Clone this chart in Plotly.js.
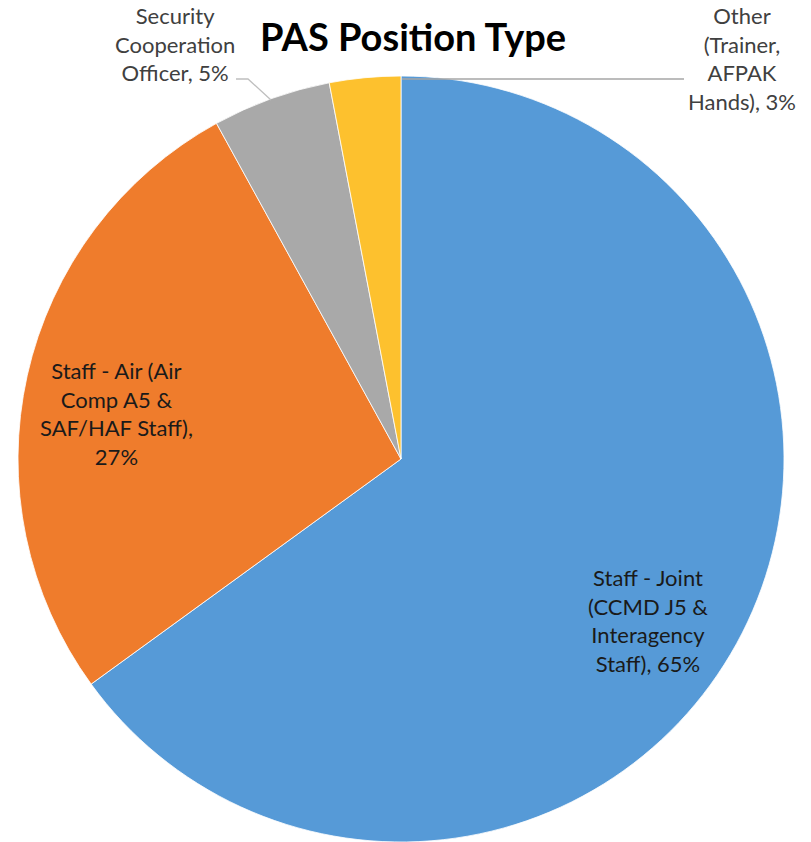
<!DOCTYPE html>
<html>
<head>
<meta charset="utf-8">
<script src="https://cdn.plot.ly/plotly-3.0.1.min.js"></script>
<style>html,body{margin:0;padding:0;background:#fff;}</style>
</head>
<body>
<div id="chart" style="width:811px;height:842px;"></div>
<script>
// Data
const categories = [
  "Staff - Joint (CCMD J5 & Interagency Staff)",
  "Staff - Air (Air Comp A5 & SAF/HAF Staff)",
  "Security Cooperation Officer",
  "Other (Trainer, AFPAK Hands)"
];
const values = [65, 27, 5, 3];
const labelLines = [
  ["Staff - Joint", "(CCMD J5 &", "Interagency", "Staff), 65%"],
  ["Staff - Air (Air", "Comp A5 &", "SAF/HAF Staff),", "27%"],
  ["Security", "Cooperation", "Officer, 5%"],
  ["Other", "(Trainer,", "AFPAK", "Hands), 3%"]
];
const colors = ["#569AD7", "#EF7C2C", "#A9A9A9", "#FDC12E"];

const W = 811, H = 842;
const px = (x) => x / W;
const py = (y) => 1 - y / H;

// label block placement (pixel centres)
const labelPos = [[648, 620], [117, 413], [175, 44], [742, 58]];

const annotations = labelLines.map((lines, i) => ({
  text: lines.join("<br>"),
  xref: "paper", yref: "paper",
  x: px(labelPos[i][0]), y: py(labelPos[i][1]),
  xanchor: "center", yanchor: "middle",
  showarrow: false, align: "center",
  font: {family: "Lato, 'Open Sans', sans-serif", size: 22, color: i < 2 ? "#1a1a1a" : "#404040"}
}));

const shapes = [
  {type: "path", xref: "paper", yref: "paper",
   path: `M ${px(236)} ${py(79)} L ${px(248)} ${py(79)} L ${px(271)} ${py(100)}`,
   line: {color: "#BFBFBF", width: 1.3}},
  {type: "line", xref: "paper", yref: "paper",
   x0: px(402), y0: py(79), x1: px(684), y1: py(79),
   line: {color: "#A6A6A6", width: 1.3}}
];

const trace = {
  type: "pie",
  labels: categories,
  values: values,
  sort: false,
  direction: "clockwise",
  rotation: 0,
  textinfo: "none",
  hoverinfo: "label+percent",
  marker: {colors: colors, line: {color: "#ffffff", width: 0.8}},
  domain: {x: [px(401 - 383), px(401 + 383)], y: [py(459 + 383), py(459 - 383)]},
  showlegend: false
};

const layout = {
  width: W, height: H,
  margin: {l: 0, r: 0, t: 0, b: 0},
  paper_bgcolor: "#ffffff",
  showlegend: false,
  title: {
    text: "<b>PAS Position Type</b>",
    xref: "paper", yref: "paper",
    x: px(413), y: py(38), xanchor: "center", yanchor: "middle",
    font: {family: "Lato, 'Open Sans', sans-serif", size: 38, color: "#000000"}
  },
  annotations: annotations,
  shapes: shapes
};

Plotly.newPlot("chart", [trace], layout, {displayModeBar: false, staticPlot: true});
</script>
</body>
</html>
